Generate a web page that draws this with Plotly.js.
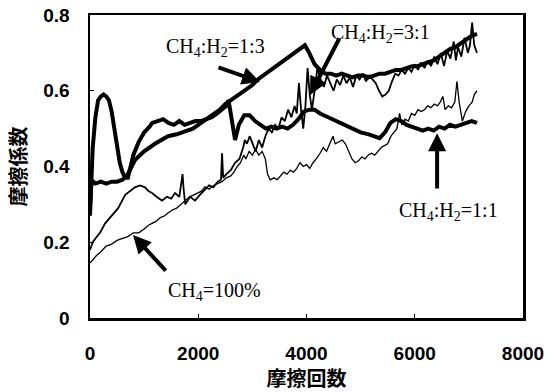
<!DOCTYPE html>
<html>
<head>
<meta charset="utf-8">
<script src="https://cdn.plot.ly/plotly-3.0.1.min.js"></script>
<style>html,body{margin:0;padding:0;background:#fff;}#chart{width:560px;height:392px;}</style>
</head>
<body>
<div id="chart"></div>
<script>
// CH4:H2 = 1:3 (thick)
const x13 = [0,20,60,100,200,300,400,500,600,700,830,1000,1200,1440,1600,1800,1900,2000,2100,2200,2300,2400,2500,2600,2700,2800,2900,3000,3100,3200,3300,3400,3500,3600,3700,3800,3900,3970,4050,4150,4250,4350,4450,4550,4650,4750,4850,4950,5050,5150,5250,5350,5450,5550,5650,5750,5850,5950,6050,6150,6250,6350,6450,6550,6650,6750,6850,6950,7050,7150];
const y13 = [0.29,0.35,0.36,0.355,0.36,0.355,0.36,0.36,0.365,0.38,0.417,0.44,0.46,0.48,0.485,0.495,0.5,0.51,0.52,0.53,0.54,0.55,0.565,0.575,0.585,0.595,0.605,0.615,0.63,0.64,0.65,0.66,0.67,0.68,0.69,0.70,0.71,0.72,0.70,0.67,0.655,0.645,0.645,0.64,0.645,0.64,0.635,0.64,0.64,0.635,0.64,0.645,0.645,0.65,0.655,0.655,0.66,0.665,0.665,0.67,0.675,0.68,0.69,0.70,0.71,0.715,0.725,0.735,0.745,0.75];

// CH4:H2 = 1:1 (thick)
const x11 = [0,20,50,100,150,200,250,300,350,400,450,500,550,600,650,700,750,800,900,1000,1100,1150,1250,1350,1450,1550,1650,1750,1850,1950,2050,2150,2250,2350,2450,2520,2560,2620,2680,2750,2850,2950,3050,3150,3250,3350,3450,3550,3650,3750,3850,3950,4050,4150,4250,4400,4550,4700,4850,5000,5150,5250,5350,5450,5550,5650,5750,5850,5950,6050,6150,6250,6350,6450,6550,6650,6750,6850,6950,7050,7150];
const y11 = [0.27,0.36,0.45,0.53,0.575,0.585,0.59,0.585,0.575,0.545,0.50,0.45,0.41,0.385,0.37,0.37,0.40,0.43,0.465,0.49,0.505,0.515,0.52,0.525,0.515,0.51,0.52,0.51,0.515,0.52,0.52,0.525,0.53,0.54,0.55,0.56,0.575,0.52,0.47,0.51,0.535,0.535,0.52,0.51,0.5,0.505,0.50,0.505,0.50,0.51,0.525,0.545,0.55,0.55,0.54,0.53,0.52,0.51,0.50,0.49,0.485,0.48,0.475,0.49,0.515,0.525,0.52,0.51,0.505,0.50,0.495,0.50,0.495,0.505,0.50,0.51,0.505,0.51,0.515,0.52,0.515];

// CH4:H2 = 3:1 (medium)
const x31 = [0,50,100,185,280,400,520,650,750,830,920,1016,1080,1146,1230,1330,1420,1500,1570,1650,1690,1710,1730,1760,1850,1940,2030,2125,2200,2280,2360,2420,2440,2460,2520,2600,2680,2760,2830,2860,2900,2950,3000,3060,3120,3180,3240,3300,3360,3420,3480,3540,3600,3660,3720,3780,3820,3860,3900,3940,3980,4020,4060,4100,4150,4200,4260,4320,4380,4440,4500,4560,4620,4680,4740,4800,4860,4920,4980,5040,5100,5160,5220,5280,5340,5400,5460,5520,5580,5640,5700,5760,5820,5880,5940,6000,6060,6120,6180,6240,6300,6360,6420,6480,6540,6600,6660,6720,6760,6800,6860,6920,6980,7020,7060,7100,7150];
const y31 = [0.18,0.20,0.21,0.225,0.25,0.27,0.29,0.325,0.335,0.345,0.35,0.345,0.335,0.33,0.32,0.31,0.32,0.315,0.33,0.32,0.36,0.38,0.34,0.30,0.32,0.31,0.325,0.34,0.35,0.345,0.36,0.365,0.435,0.37,0.38,0.39,0.41,0.42,0.45,0.47,0.46,0.48,0.46,0.44,0.47,0.45,0.48,0.50,0.49,0.51,0.50,0.53,0.52,0.55,0.53,0.56,0.54,0.62,0.55,0.50,0.56,0.66,0.59,0.55,0.60,0.66,0.63,0.61,0.64,0.62,0.60,0.63,0.615,0.64,0.62,0.635,0.61,0.64,0.63,0.645,0.625,0.64,0.63,0.62,0.60,0.585,0.59,0.60,0.625,0.645,0.64,0.655,0.645,0.66,0.65,0.67,0.655,0.675,0.66,0.68,0.665,0.69,0.67,0.70,0.665,0.705,0.685,0.73,0.68,0.715,0.69,0.74,0.70,0.72,0.78,0.72,0.70];

// CH4 = 100% (thin)
const x100 = [0,60,120,200,300,400,500,600,700,800,900,1000,1080,1146,1220,1300,1380,1441,1520,1600,1680,1755,1840,1920,2000,2060,2125,2200,2280,2360,2440,2520,2600,2660,2720,2780,2840,2880,2940,3000,3060,3120,3180,3240,3280,3330,3400,3460,3520,3580,3640,3700,3760,3820,3880,3940,4000,4060,4120,4180,4250,4310,4370,4430,4490,4530,4600,4660,4720,4780,4840,4900,4960,5020,5080,5140,5200,5260,5320,5380,5440,5500,5560,5620,5670,5720,5760,5820,5880,5940,6000,6060,6120,6180,6240,6300,6360,6420,6470,6520,6560,6620,6680,6740,6780,6820,6880,6940,7000,7060,7100,7150];
const y100 = [0.145,0.155,0.165,0.175,0.19,0.195,0.205,0.21,0.215,0.225,0.225,0.235,0.245,0.25,0.255,0.265,0.27,0.277,0.285,0.29,0.30,0.31,0.32,0.325,0.33,0.335,0.346,0.34,0.35,0.355,0.36,0.37,0.375,0.385,0.40,0.41,0.43,0.42,0.44,0.43,0.445,0.43,0.44,0.42,0.38,0.365,0.37,0.365,0.375,0.385,0.38,0.39,0.385,0.395,0.41,0.40,0.405,0.395,0.41,0.42,0.435,0.45,0.44,0.46,0.48,0.46,0.465,0.47,0.46,0.44,0.42,0.41,0.415,0.425,0.42,0.43,0.435,0.43,0.44,0.45,0.455,0.46,0.48,0.49,0.50,0.54,0.51,0.525,0.52,0.54,0.535,0.55,0.545,0.55,0.56,0.555,0.565,0.56,0.57,0.585,0.55,0.56,0.555,0.57,0.625,0.57,0.52,0.545,0.56,0.57,0.59,0.60];

const labels = ['CH<sub>4</sub>:H<sub>2</sub>=1:3','CH<sub>4</sub>:H<sub>2</sub>=3:1','CH<sub>4</sub>:H<sub>2</sub>=1:1','CH<sub>4</sub>=100%'];
const xTicks = [0,2000,4000,6000,8000];
const yTicks = [0,0.2,0.4,0.6,0.8];
const yTickText = ['0','0.2','0.4','0.6','0.8'];

const blk = '#000';
const traces = [
  {x:x11,y:y11,mode:'lines',line:{color:blk,width:4},hoverinfo:'skip'},
  {x:x13,y:y13,mode:'lines',line:{color:blk,width:4},hoverinfo:'skip'},
  {x:x31,y:y31,mode:'lines',line:{color:blk,width:1.8},hoverinfo:'skip'},
  {x:x100,y:y100,mode:'lines',line:{color:blk,width:1.3},hoverinfo:'skip'}
];

const annFont = {family:'Liberation Serif, Times New Roman, serif',size:20,color:blk};
function arrow(x,y,ax,ay){
  return {x:x,y:y,ax:ax,ay:ay,xref:'x',yref:'y',axref:'x',ayref:'y',text:'',showarrow:true,
          arrowhead:2,arrowsize:0.9,arrowwidth:4,arrowcolor:blk};
}
function label(x,y,t){
  return {x:x,y:y,xref:'x',yref:'y',text:t,showarrow:false,font:annFont,xanchor:'center',yanchor:'middle'};
}
const annotations = [
  label(2310,0.713,labels[0]),
  label(5360,0.752,labels[1]),
  label(6616,0.280,labels[2]),
  label(2292,0.069,labels[3]),
  arrow(3142,0.623,2347,0.663),
  arrow(4066,0.589,4620,0.742),
  arrow(6413,0.488,6413,0.338),
  arrow(795,0.219,1423,0.121)
];

const tickFont = {family:'Liberation Sans, Arial, sans-serif',size:19,color:blk,weight:'bold'};
const titleFont = {family:'Noto Sans CJK JP, sans-serif',size:20,color:blk,weight:'bold'};

const layout = {
  width:560,height:392,
  margin:{l:90,r:37,t:15,b:74},
  paper_bgcolor:'#fff',plot_bgcolor:'#fff',
  showlegend:false,
  xaxis:{range:[0,8000],tickvals:xTicks,showline:true,linewidth:2.5,linecolor:blk,mirror:true,
         ticks:'inside',ticklen:4,tickwidth:1,tickcolor:blk,showgrid:false,zeroline:false,
         tickfont:tickFont,ticklabelstandoff:17,automargin:false,
         title:{text:'摩擦回数',font:titleFont,standoff:4}},
  yaxis:{range:[0,0.8],tickvals:yTicks,ticktext:yTickText,showline:true,linewidth:2.5,linecolor:blk,mirror:true,
         ticks:'inside',ticklen:4,tickwidth:1,tickcolor:blk,showgrid:false,zeroline:false,
         tickfont:tickFont,ticklabelstandoff:14,automargin:false,
         title:{text:'摩擦係数',font:titleFont,standoff:12}},
  annotations:annotations
};
Plotly.newPlot('chart',traces,layout,{displayModeBar:false,staticPlot:true});
</script>
</body>
</html>
